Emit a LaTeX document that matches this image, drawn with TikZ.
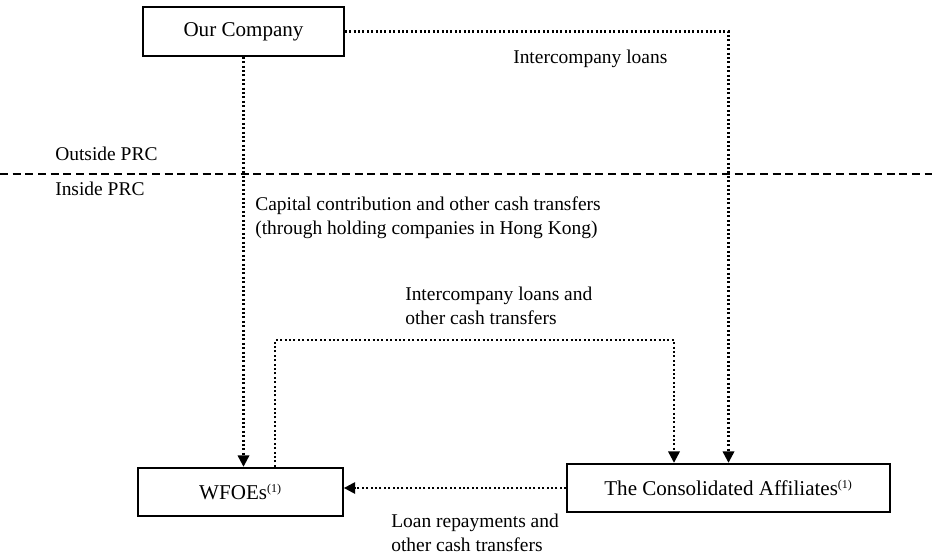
\documentclass[tikz,border=0pt]{standalone}
\usepackage{fontspec}
\setmainfont{Liberation Serif}
\usetikzlibrary{arrows.meta}

\newcommand{\fnref}[1]{\textsuperscript{\fontsize{9}{9}\selectfont(#1)}}

\tikzset{
  entity/.style={draw, line width=1.3pt, inner sep=0pt, minimum height=36.5pt, font=\fontsize{15.8}{18}\selectfont},
  flow/.style={line width=1.7pt, dash pattern=on 1.5pt off 1.8pt, -{Triangle[width=8.5pt,length=8.5pt]}},
  note/.style={anchor=north west, inner sep=0pt, align=left, font=\fontsize{14.6}{17.5}\selectfont},
}

\begin{document}
\begin{tikzpicture}[x=0.75pt,y=0.75pt,yscale=-1,xscale=1]
		\path [use as bounding box] (0,0) rectangle (932,557);

		%Shape: Boxes
		\node [entity, minimum width=150.75pt] (company) at (243.5,31.5) {Our Company};
		\node [entity, minimum width=153.75pt] (wfoe) at (240.5,492) {WFOEs\fnref{1}};
		\node [entity, minimum width=242.25pt] (affil) at (728.5,488) {The Consolidated Affiliates\fnref{1}};

		%Straight Lines: border of the PRC
		\coordinate (bleft) at (0,174);
		\coordinate (bright) at (932,174);
		\draw [line width=1.4pt, dash pattern=on 6pt off 3.5pt] (bleft) -- (bright);

		%Connectors
		\coordinate (wtop) at (275,340);
		\coordinate (atop) at (674,340);
		\draw [flow] (company.south) -- (company.south |- wfoe.north);
		\draw [flow] (company.east) -| (affil.north);
		\draw [flow] (wfoe.north -| wtop) -- (wtop) -- (atop) -- (affil.north -| atop);
		\draw [flow] (affil.west) -- (affil.west -| wfoe.east);

		% Text Node
		\node [note] (outside) at (55,147) {Outside PRC};
		% Text Node
		\node [note] (inside) at (55,182) {Inside PRC};
		% Text Node
		\node [note] (loans) at (513,50) {Intercompany loans};
		% Text Node
		\node [note] (capital) at (255,197) {Capital contribution and other cash transfers\\(through holding companies in Hong Kong)};
		% Text Node
		\node [note] (icloans) at (405,287) {Intercompany loans and\\other cash transfers};
		% Text Node
		\node [note] (repay) at (391,514) {Loan repayments and\\other cash transfers};
	\end{tikzpicture}
\end{document}
